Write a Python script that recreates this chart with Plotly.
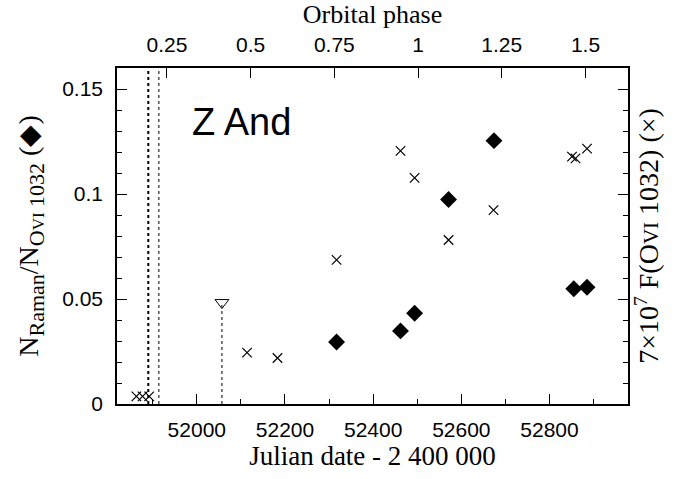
import plotly.graph_objects as go

# ---- data ----
jd_ratio = [52317, 52462, 52494, 52571, 52674, 52855, 52885]
ratio = [0.0295, 0.0348, 0.0432, 0.0974, 0.1254, 0.0549, 0.0556]

jd_flux = [51863, 51877, 51892, 52114, 52183, 52317, 52462, 52494, 52571, 52673, 52851, 52859, 52885]
flux = [0.0036, 0.0036, 0.0036, 0.0245, 0.0219, 0.0686, 0.1205, 0.1077, 0.0781, 0.0923, 0.1178, 0.1170, 0.1216]

jd_limit = [52057]
limit = [0.0483]

vlines_jd = [51890, 51914]
vlines_width = [2, 1]

phase_ticks = [0.25, 0.5, 0.75, 1, 1.25, 1.5]
phase_labels = ["0.25", "0.5", "0.75", "1", "1.25", "1.5"]

jd_range = [51819, 52978]
phase_range = [0.101, 1.627]
y_range = [0, 0.16]

SANS = "Liberation Sans, Arial, Helvetica, sans-serif"
SERIF = "Liberation Serif, Times New Roman, serif"

fig = go.Figure()

# invisible trace to activate the top (phase) axis
fig.add_trace(go.Scatter(
    x=phase_ticks, y=[None] * len(phase_ticks), xaxis="x2", yaxis="y",
    mode="markers", marker=dict(opacity=0), showlegend=False, hoverinfo="skip"))

# dotted line under upper limit
fig.add_trace(go.Scatter(
    x=[jd_limit[0], jd_limit[0]], y=[0, limit[0]], mode="lines",
    line=dict(color="black", width=1, dash="dot"), showlegend=False, hoverinfo="skip"))
fig.add_trace(go.Scatter(
    x=jd_limit, y=limit, mode="markers",
    marker=dict(symbol="triangle-down-open", size=12, color="black", line=dict(width=1)),
    showlegend=False))

fig.add_trace(go.Scatter(
    x=jd_flux, y=flux, mode="markers", yaxis="y2",
    marker=dict(symbol="x-thin-open", size=9.5, color="black", line=dict(width=1.2, color="black")),
    showlegend=False))

fig.add_trace(go.Scatter(
    x=jd_ratio, y=ratio, mode="markers",
    marker=dict(symbol="diamond", size=13, color="black", line=dict(width=0)),
    showlegend=False))

for xv, w in zip(vlines_jd, vlines_width):
    fig.add_vline(x=xv, line=dict(color="black", width=w, dash="dot"))

fig.add_annotation(text="Z And", xref="paper", yref="paper", x=0.142, y=0.84,
                   xanchor="left", yanchor="middle", showarrow=False,
                   font=dict(family=SANS, size=38, color="black"))

axis_common = dict(showline=True, linecolor="black", linewidth=1.5, ticks="inside",
                   tickcolor="black", tickwidth=1.2, showgrid=False, zeroline=False,
                   tickfont=dict(family=SANS, size=21, color="black"))

left_title = ("N<sub><span style='font-size:22px'>Raman</span></sub>/N"
              "<sub><span style='font-size:22px'>O</span><span style='font-size:17px'>VI</span>"
              "<span style='font-size:22px'> 1032</span></sub> (◆)")
right_title = "7×10<sup>7</sup> F(O<span style='font-size:21px'>VI</span> 1032) (×)"

fig.update_layout(
    width=689, height=479,
    margin=dict(l=117, r=61, t=68, b=75),
    paper_bgcolor="white", plot_bgcolor="white",
    xaxis=dict(range=jd_range, tick0=52000, dtick=200, ticklen=10, tickformat="d",
               ticklabelstandoff=6,
               minor=dict(dtick=100, ticks="inside", ticklen=5, tickcolor="black", tickwidth=1.2),
               title=dict(text="Julian date - 2 400 000", font=dict(family=SERIF, size=27, color="black"), standoff=4),
               **axis_common),
    xaxis2=dict(range=phase_range, overlaying="x", side="top", anchor="y",
                tickvals=phase_ticks, ticktext=phase_labels, ticklen=10,
                ticklabelstandoff=6,
                title=dict(text="Orbital phase", font=dict(family=SERIF, size=26, color="black"), standoff=4),
                **axis_common),
    yaxis=dict(range=y_range, tick0=0, dtick=0.05, ticklen=10, ticklabelstandoff=8,
               minor=dict(dtick=0.01, ticks="inside", ticklen=5, tickcolor="black", tickwidth=1.2),
               title=dict(text=left_title, font=dict(family=SERIF, size=28, color="black"), standoff=15),
               **axis_common),
    yaxis2=dict(range=y_range, overlaying="y", side="right", anchor="x",
                tick0=0, dtick=0.05, ticklen=10, showticklabels=False,
                minor=dict(dtick=0.01, ticks="inside", ticklen=5, tickcolor="black", tickwidth=1.2),
                title=dict(text=right_title, font=dict(family=SERIF, size=28, color="black"), standoff=10),
                **axis_common),
)

fig.write_html("out.html")
